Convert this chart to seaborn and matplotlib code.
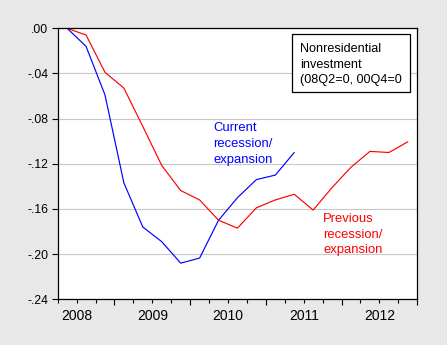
import matplotlib
matplotlib.use("Agg")
import matplotlib.pyplot as plt
import seaborn as sns
import pandas as pd
from matplotlib.patches import Rectangle
from matplotlib.transforms import offset_copy

# Log change in nonresidential investment, indexed to the cycle peak
current_quarters = ["2008Q2", "2008Q3", "2008Q4", "2009Q1", "2009Q2", "2009Q3", "2009Q4",
                    "2010Q1", "2010Q2", "2010Q3", "2010Q4", "2011Q1", "2011Q2"]
current = [0.0, -0.016, -0.059, -0.137, -0.176, -0.189, -0.208,
           -0.2035, -0.170, -0.150, -0.134, -0.130, -0.110]

# Previous cycle (2000Q4 = 0) shifted onto the same calendar
previous_quarters = ["2008Q2", "2008Q3", "2008Q4", "2009Q1", "2009Q2", "2009Q3", "2009Q4",
                     "2010Q1", "2010Q2", "2010Q3", "2010Q4", "2011Q1", "2011Q2", "2011Q3",
                     "2011Q4", "2012Q1", "2012Q2", "2012Q3", "2012Q4"]
previous = [0.0, -0.006, -0.039, -0.053, -0.087, -0.1215, -0.1437,
            -0.152, -0.170, -0.177, -0.159, -0.152, -0.147, -0.161,
            -0.141, -0.123, -0.109, -0.110, -0.1005]

years = [2008, 2009, 2010, 2011, 2012]
y_ticks = [0.0, -0.04, -0.08, -0.12, -0.16, -0.20, -0.24]
y_labels = [".00", "-.04", "-.08", "-.12", "-.16", "-.20", "-.24"]

FIRST_YEAR, FIRST_Q = 2008, 2


def quarter_pos(label):
    """Centre of a quarter, counted from the start of the first plotted quarter."""
    yr, q = int(label[:4]), int(label[-1])
    return (yr - FIRST_YEAR) * 4 + (q - FIRST_Q) + 0.5


df = pd.concat([
    pd.DataFrame({"pos": [quarter_pos(q) for q in current_quarters],
                  "value": current, "series": "current"}),
    pd.DataFrame({"pos": [quarter_pos(q) for q in previous_quarters],
                  "value": previous, "series": "previous"}),
])

sns.set_theme(style="white")
plt.rcParams["font.family"] = ["Liberation Sans", "DejaVu Sans"]

fig = plt.figure(figsize=(4.47, 3.45), dpi=100, facecolor="#e8e8e8")
ax = fig.add_axes([0.129, 0.1325, 0.8045, 0.7855])
ax.set_facecolor("white")

sns.lineplot(data=df, x="pos", y="value", hue="series",
             palette={"current": "#0000ff", "previous": "#ff0000"},
             estimator=None, sort=False, linewidth=0.85, legend=False, ax=ax)

n_quarters = len(previous_quarters)
ax.set_xlim(0, n_quarters)
ax.set_ylim(-0.24, 0.0)
ax.set_xlabel("")
ax.set_ylabel("")

# frame
for sp in ax.spines.values():
    sp.set_visible(True)
    sp.set_color("black")
    sp.set_linewidth(0.9)

# horizontal grid
ax.set_axisbelow(True)
ax.yaxis.grid(True, color="#c8c8c8", linewidth=0.8)
ax.xaxis.grid(False)

# y axis
ax.set_yticks(y_ticks, labels=y_labels)
ax.tick_params(axis="y", which="major", direction="out", length=4.2, width=0.8,
               color="black", pad=2.5, labelsize=8.7, labelcolor="black", left=True)

# x axis: long ticks at year boundaries, short ticks at quarters, year names centred
boundaries = [(yr - FIRST_YEAR) * 4 + (1 - FIRST_Q) + 4 for yr in years]
centres = [(yr - FIRST_YEAR) * 4 + (1 - FIRST_Q) + 2 for yr in years]
quarter_ticks = [p for p in range(0, n_quarters) if p not in boundaries]
quarter_labels = [str(years[centres.index(p)]) if p in centres else "" for p in quarter_ticks]
ax.set_xticks(boundaries, labels=[""] * len(boundaries))
ax.set_xticks(quarter_ticks, labels=quarter_labels, minor=True)
ax.tick_params(axis="x", which="major", direction="out", length=4.3, width=0.8,
               color="black", bottom=True)
ax.tick_params(axis="x", which="minor", direction="out", length=2.8, width=0.8,
               color="black", pad=4.5, labelsize=10, labelcolor="black", bottom=True)


def stacked_text(x, y, lines, step_px, color, size, transform=None, **kw):
    base = transform if transform is not None else ax.transData
    for i, line in enumerate(lines):
        tr = offset_copy(base, fig=fig, x=0, y=-i * step_px, units="dots")
        ax.text(x, y, line, transform=tr, color=color, fontsize=size,
                ha="left", va="baseline", **kw)


stacked_text(8.22, -0.091, ["Current", "recession/", "expansion"], 15.8, "#0000ff", 9.4)
stacked_text(14.03, -0.1713, ["Previous", "recession/", "expansion"], 15.8, "#ff0000", 9.4)

# title box
box = Rectangle((0.651, 0.764), 0.3295, 0.214, transform=ax.transAxes,
                facecolor="white", edgecolor="black", linewidth=0.9, zorder=5)
ax.add_patch(box)
for line, yb in zip(["Nonresidential", "investment", "(08Q2=0, 00Q4=0"],
                    [0.9114, 0.8524, 0.797]):
    t = ax.text(0.674, yb, line, transform=ax.transAxes, fontsize=9.1,
                color="black", ha="left", va="baseline", zorder=6)
    t.set_clip_path(box)

fig.savefig("out.png", dpi=100, facecolor=fig.get_facecolor())
